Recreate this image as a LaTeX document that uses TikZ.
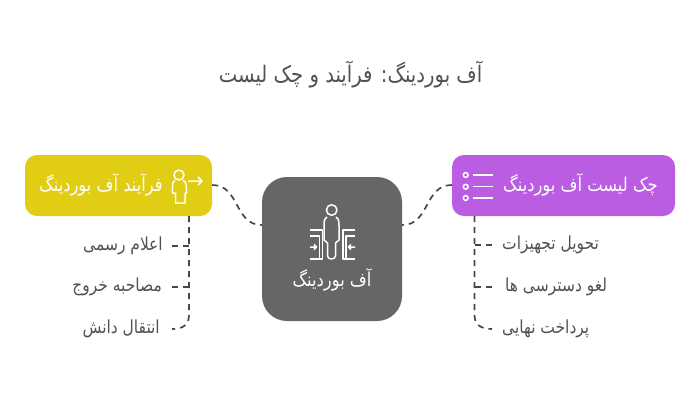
\documentclass[tikz,border=0pt]{standalone}
\usepackage{fontspec}
\TeXXeTstate=1
\newfontfamily\arabicfont[Script=Arabic,FakeStretch=0.86]{DejaVu Sans}
\newcommand{\fa}[1]{\arabicfont\beginR #1\endR}
\tikzset{
  x=1pt,y=-1pt,
  boxbase/.style={rounded corners=12pt,minimum height=61pt,inner sep=0pt,draw=none},
  conn/.style={draw=black!72,line width=1.7pt,dash pattern=on 6pt off 5pt},
  icon/.style={draw=white,line width=1.5pt,fill=none,line join=round},
  boxtext/.style={text=white,font=\fontsize{19}{21}\selectfont,inner sep=0pt},
  item/.style={text=black!68,font=\fontsize{18}{21}\selectfont,inner sep=0pt},
}
\definecolor{yel}{HTML}{E1CD14}
\definecolor{pur}{HTML}{BA5DE3}
\definecolor{gry}{HTML}{666666}
\begin{document}
\begin{tikzpicture}
\useasboundingbox (0,0) rectangle (700,400);
\fill[white] (0,0) rectangle (700,400);
\node[text=black!68,font=\fontsize{22.8}{26}\selectfont,inner sep=0pt] (title) at (350.5,75) {\fa{آف بوردینگ: فرآیند و چک لیست}};
\node[boxbase,fill=yel,minimum width=187pt] (yb) at (118.5,185.5) {};
\node[boxbase,fill=pur,minimum width=223pt] (pb) at (563.5,185.5) {};
\node[fill=gry,rounded corners=25pt,minimum width=140pt,minimum height=144pt,inner sep=0pt] (gb) at (332,249) {};
\node[boxtext] (yt) at (101,185) {\fa{فرآیند آف بوردینگ}};
\node[boxtext] (pt) at (580.5,185) {\fa{چک لیست آف بوردینگ}};
\node[boxtext] (gt) at (332,280) {\fa{آف بوردینگ}};
% items
\node[item,anchor=east] (l1) at (163,246) {\fa{اعلام رسمی}};
\node[item,anchor=east] (l2) at (162,287) {\fa{مصاحبه خروج}};
\node[item,anchor=east] (l3) at (160,329) {\fa{انتقال دانش}};
\node[item,anchor=west] (r1) at (502,245) {\fa{تحویل تجهیزات}};
\node[item,anchor=west] (r2) at (505,287) {\fa{لغو دسترسی ها}};
\node[item,anchor=west] (r3) at (502,329) {\fa{پرداخت نهایی}};
% connector anchors
\coordinate (ya) at (189,216);
\coordinate (pa) at (474.5,216);
\coordinate (ls1) at (172,246);
\coordinate (ls2) at (172,287);
\coordinate (ls3) at (172,329);
\coordinate (rs1) at (492,245);
\coordinate (rs2) at (492,287);
\coordinate (rs3) at (492,329);
% connectors
\draw[conn] (yb.east |- 0,185) .. controls (240,185) and (234,225) .. (gb.west |- 0,225);
\draw[conn] (pb.west |- 0,185) .. controls (424,185) and (430,225) .. (gb.east |- 0,225);
\draw[conn] (ya) -- (ya |- 0,315) .. controls (189,324) and (184,329) .. (ls3);
\draw[conn] (ya |- ls1) -- (ls1);
\draw[conn] (ya |- ls2) -- (ls2);
\draw[conn] (pa) -- (pa |- 0,315) .. controls (474.5,324) and (480,329) .. (rs3);
\draw[conn] (pa |- rs1) -- (rs1);
\draw[conn] (pa |- rs2) -- (rs2);
% yellow icon
\draw[icon] (179,175) circle (5);
\draw[icon] (175,180.5) .. controls (172,182) and (172.5,185) .. (172.5,193) -- (175.5,193) -- (175.5,203) -- (185,203) -- (185,193) -- (186.5,193) .. controls (186.5,185) and (186.5,182) .. (183,180.5);
\draw[icon] (188,181) -- (202,181) (198,177) -- (202,181) -- (198,185);
% purple icon
\foreach \yy in {175,186.7,198}{
  \draw[icon] (465.7,\yy) circle (2.4);
  \draw[icon] (472.7,\yy) -- (492.7,\yy);
}
% gray icon
\draw[icon] (331.7,210) circle (5.3);
\draw[icon] (327,217) .. controls (324,219) and (324,222) .. (324,226) -- (324,240) -- (327.5,243) -- (327.5,256) .. controls (327.5,260) and (335.5,260) .. (335.5,256) -- (335.5,243) -- (339,240) -- (339,226) .. controls (339,222) and (339,219) .. (336,217);
\draw[icon] (310,230) -- (322.5,230) -- (322.5,259) -- (310,259);
\draw[icon] (310,236) -- (319.5,236) -- (319.5,259);
\draw[icon] (355,230) -- (343,230) -- (343,259) -- (355,259);
\draw[icon] (355,236) -- (346,236) -- (346,259);
\draw[icon] (310,247) -- (316.5,247) (314,244.5) -- (316.5,247) -- (314,249.5);
\draw[icon] (355,247) -- (348.5,247) (351,244.5) -- (348.5,247) -- (351,249.5);
\end{tikzpicture}
\end{document}
